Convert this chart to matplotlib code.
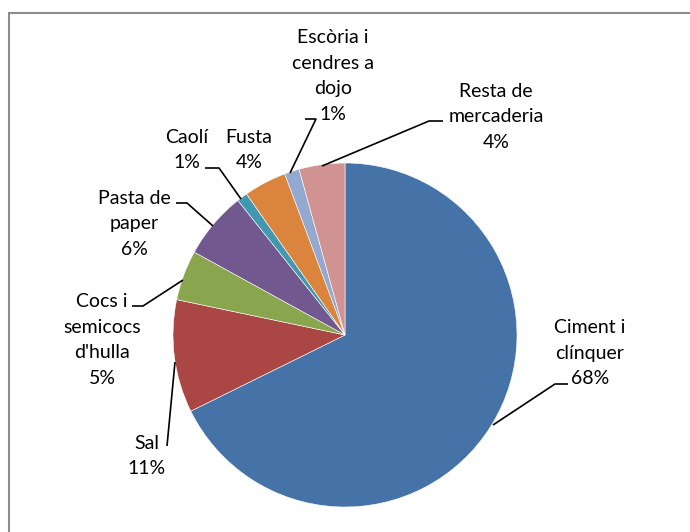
import matplotlib
matplotlib.use("Agg")
import matplotlib.pyplot as plt
from matplotlib.patches import Rectangle

categories = ["Ciment i\nclínquer", "Sal", "Cocs i\nsemicocs\nd'hulla", "Pasta de\npaper",
              "Caolí", "Fusta", "Escòria i\ncendres a\ndojo", "Resta de\nmercaderia"]
values = [67.7, 10.6, 4.7, 6.3, 1.0, 4.0, 1.4, 4.3]
colors = ["#4572A7", "#AA4643", "#89A54E", "#71588F", "#4198AF", "#DB843D", "#93A9CF", "#D19392"]

W, H = 690, 532
fig = plt.figure(figsize=(W / 100, H / 100), dpi=100)
ax = fig.add_axes([0, 0, 1, 1])

def Y(y):
    return H - y

# outer frame
fig.patches.append(Rectangle((9 / W, 0 - 0.01), 1.0, Y(13) / H + 0.01, transform=fig.transFigure,
                             fill=False, edgecolor="#8c8c8c", linewidth=1.5))

ax.pie(values, colors=colors, startangle=90, counterclock=False,
       center=(345, Y(335)), radius=172,
       wedgeprops=dict(edgecolor="white", linewidth=0.4))
ax.set_xlim(0, W)
ax.set_ylim(0, H)
ax.set_aspect("equal")
ax.axis("off")

total = sum(values)
labels = [f"{c}\n{round(v / total * 100):.0f}%" for c, v in zip(categories, values)]

# label block centre (x, y) in pixels, leader polyline in pixels
label_pos = [(590, 353), (147, 456), (102, 340), (134, 224), (187, 150), (249, 150), (333, 76), (496, 117)]
leaders = [
    [(568, 384), (555, 384), (493, 425)],
    [(167, 446), (175, 362)],
    [(132, 306), (143, 306), (183, 280)],
    [(176, 203), (187, 203), (213, 226)],
    [(205, 168), (219, 168), (241, 199)],
    None,
    [(305, 119), (316, 119), (290, 173)],
    [(443, 121), (429, 121), (322, 166)],
]

for lab, (x, y), ld in zip(labels, label_pos, leaders):
    ax.text(x, Y(y), lab, ha="center", va="center", fontsize=14, family="Lato",
            linespacing=1.6, color="black")
    if ld:
        xs = [p[0] for p in ld]
        ys = [Y(p[1]) for p in ld]
        ax.plot(xs, ys, color="black", linewidth=1.2, solid_capstyle="butt")

fig.savefig("out.png", dpi=100)
